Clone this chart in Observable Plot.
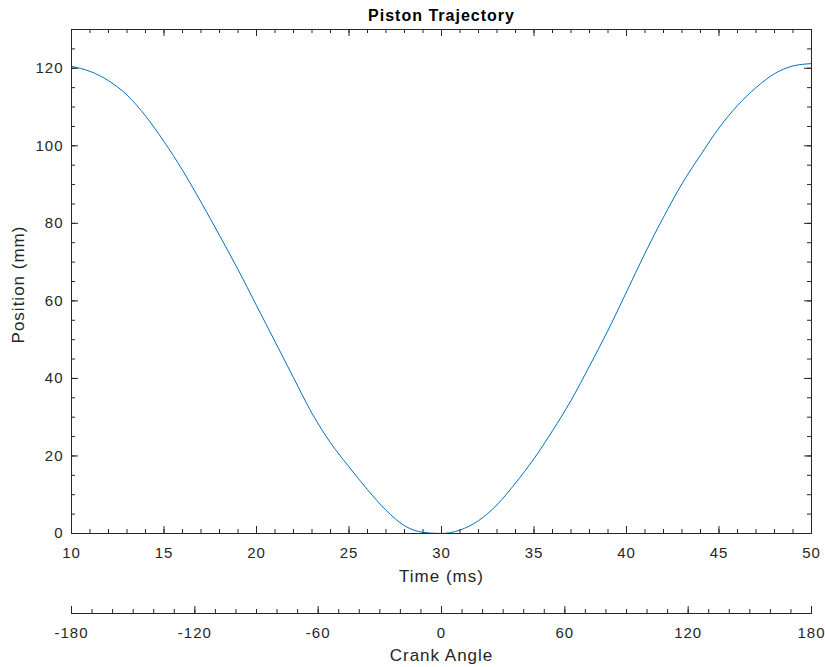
<!DOCTYPE html>
<html>
<head>
<meta charset="utf-8">
<script src="https://cdn.jsdelivr.net/npm/d3@7"></script>
<script src="https://cdn.jsdelivr.net/npm/@observablehq/plot@0.6"></script>
<style>
  body { margin: 0; background: #fff; }
  #chart svg { display: block; }
  #chart svg text { letter-spacing: 1px; }
</style>
</head>
<body>
<div id="chart"></div>
<script>
// ---- data ----
const time = [10,11,12,13,14,15,16,17,18,19,20,21,22,23,24,25,26,27,28,29,30,31,32,33,34,35,36,37,38,39,40,41,42,43,44,45,46,47,48,49,50];
const position = [120.5,119.2,116.8,113.1,107.7,101.1,93.7,85.5,76.9,68.1,58.8,49.5,40.2,31.0,23.4,17.2,11.3,6.0,2.0,0.3,0.0,0.9,3.3,7.4,13.0,19.3,26.5,34.3,43.2,52.4,62.3,72.3,81.6,90.2,97.6,104.6,110.4,115.0,118.6,120.6,121.2];

const timeTicks = [10,15,20,25,30,35,40,45,50];
const timeMinorTicks = d3.range(10, 51, 1);
const positionTicks = [0,20,40,60,80,100,120];
const positionMinorTicks = d3.range(0, 131, 5);
const crankTicks = [-180,-120,-60,0,60,120,180];
const crankMinorTicks = d3.range(-180, 181, 10);

const titleText = "Piston Trajectory";
const xLabel = "Time (ms)";
const yLabel = "Position (mm)";
const crankLabel = "Crank Angle";

const points = time.map((t, i) => ({t, p: position[i]}));

// ---- styling ----
const axisColor = "#262626";
const lineColor = "#0072BD";
const font = "'Liberation Sans', Arial, Helvetica, sans-serif";

const W = 825;
const mainH = 595;
const mT = 29, mB = 62, mL = 71, mR = 14;
const frameH = mainH - mT - mB;   // 504
const frameW = W - mL - mR;       // 740
const major = 7, minor = 4;

const main = Plot.plot({
  width: W, height: mainH,
  marginTop: mT, marginBottom: mB, marginLeft: mL, marginRight: mR,
  style: {fontFamily: font, fontSize: "15px", color: axisColor, background: "#fff", overflow: "visible"},
  x: {domain: [10, 50]},
  y: {domain: [0, 130]},
  marks: [
    Plot.line(points, {x: "t", y: "p", stroke: lineColor, strokeWidth: 1, curve: "monotone-x"}),
    Plot.frame({stroke: axisColor}),
    // bottom ticks (inward)
    Plot.tickX(timeMinorTicks, {x: d => d, stroke: axisColor, insetTop: frameH - minor}),
    Plot.tickX(timeTicks, {x: d => d, stroke: axisColor, insetTop: frameH - major}),
    // top ticks (inward)
    Plot.tickX(timeMinorTicks, {x: d => d, stroke: axisColor, insetBottom: frameH - minor}),
    Plot.tickX(timeTicks, {x: d => d, stroke: axisColor, insetBottom: frameH - major}),
    // left ticks
    Plot.tickY(positionMinorTicks, {y: d => d, stroke: axisColor, insetRight: frameW - minor}),
    Plot.tickY(positionTicks, {y: d => d, stroke: axisColor, insetRight: frameW - major}),
    // right ticks
    Plot.tickY(positionMinorTicks, {y: d => d, stroke: axisColor, insetLeft: frameW - minor}),
    Plot.tickY(positionTicks, {y: d => d, stroke: axisColor, insetLeft: frameW - major}),
    Plot.axisX(timeTicks, {tickSize: 0, tickPadding: 14, tickFormat: d => String(d), label: null, fill: axisColor}),
    Plot.axisY(positionTicks, {tickSize: 0, tickPadding: 8, tickFormat: d => String(d), label: null, fill: axisColor}),
    Plot.text([titleText], {frameAnchor: "top", textAnchor: "middle", lineAnchor: "middle", dy: -14, fontWeight: "bold", fontSize: 16, fill: "#000"}),
    Plot.text([xLabel], {frameAnchor: "bottom", textAnchor: "middle", lineAnchor: "middle", dy: 43, fontSize: 17, fill: axisColor}),
    Plot.text([yLabel], {frameAnchor: "left", textAnchor: "middle", lineAnchor: "middle", dx: -53, dy: 3, rotate: -90, fontSize: 17, fill: axisColor})
  ]
});

const cH = 72, cT = 5, cB = 54;
const cFrameH = cH - cT - cB; // 13
const crank = Plot.plot({
  width: W, height: cH,
  marginTop: cT, marginBottom: cB, marginLeft: mL, marginRight: mR,
  style: {fontFamily: font, fontSize: "15px", color: axisColor, background: "#fff", overflow: "visible"},
  x: {domain: [-180, 180]},
  marks: [
    Plot.frame({anchor: "bottom", stroke: axisColor}),
    Plot.tickX(crankMinorTicks, {x: d => d, stroke: axisColor, insetTop: cFrameH - minor}),
    Plot.tickX(crankTicks, {x: d => d, stroke: axisColor, insetTop: cFrameH - major}),
    Plot.axisX(crankTicks, {tickSize: 0, tickPadding: 14, tickFormat: d => String(d), label: null, fill: axisColor}),
    Plot.text([crankLabel], {frameAnchor: "bottom", textAnchor: "middle", lineAnchor: "middle", dy: 42, fontSize: 17, fill: axisColor})
  ]
});

const el = document.getElementById("chart");
el.appendChild(main);
el.appendChild(crank);
</script>
</body>
</html>
